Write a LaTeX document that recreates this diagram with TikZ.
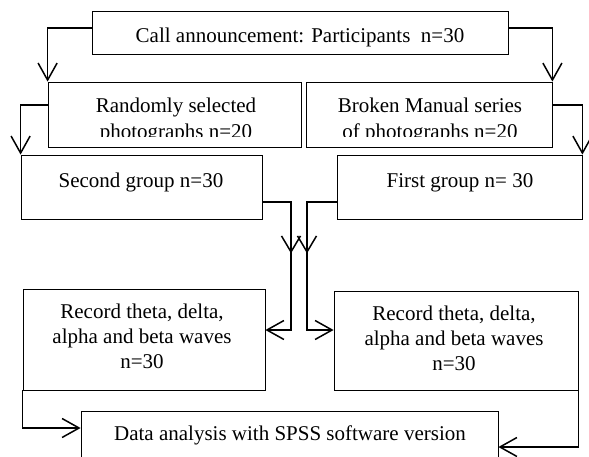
\documentclass[tikz,border=0pt]{standalone}
\usepackage{fontspec}
\setmainfont{Liberation Serif}
\usetikzlibrary{arrows.meta,decorations.markings,calc}
\begin{document}
\begin{tikzpicture}[x=1pt,y=-1pt,
  box/.style={draw, line width=0.8pt, inner sep=0pt},
  txt/.style={anchor=base, inner sep=0pt, font=\fontsize{21}{25}\selectfont},
  conn/.style={line width=1.5pt, -{Straight Barb[length=17pt,width=19pt]}},
  midarrow/.style={postaction={decorate}, decoration={markings,
    mark=at position #1 with {\arrow{Straight Barb[length=16pt,width=19pt]}}}}]
\useasboundingbox (0,0) rectangle (589,456);
\clip (0,0) rectangle (589,456);
\fill[white] (0,0) rectangle (589,456);

% boxes
\node[box, minimum width=416pt, minimum height=43pt] (top) at (300,32.5) {};
\node[box, minimum width=253pt, minimum height=65pt] (rand) at (174.5,114.5) {};
\node[box, minimum width=246pt, minimum height=65pt] (broken) at (429,114.5) {};
\node[box, minimum width=241pt, minimum height=64pt] (second) at (141.5,187) {};
\node[box, minimum width=245pt, minimum height=64pt] (first) at (459.5,187) {};
\node[box, minimum width=242pt, minimum height=101pt] (recL) at (144,339.5) {};
\node[box, minimum width=244pt, minimum height=99pt] (recR) at (456,340.5) {};
\node[box, minimum width=417pt, minimum height=69pt] (data) at (289.5,445.5) {};

% texts
\node[txt] (topt) at (300,42) {Call announcement: Participants\ \ n=30};
\node[txt] (rand1) at (176,112) {Randomly selected};
\node[txt] (brok1) at (430,112) {Broken Manual series};
\begin{scope}
\clip (0,120) rectangle (589,136.8);
\node[txt] (rand2) at (176,138) {photographs n=20};
\node[txt] (brok2) at (430,138) {of photographs n=20};
\end{scope}
\node[txt] (sect) at (141,187) {Second group n=30};
\node[txt] (firt) at (460,187) {First group n= 30};
\node[txt] (recL1) at (142,318) {Record theta, delta,};
\node[txt] (recL2) at (142,343) {alpha and beta waves};
\node[txt] (recL3) at (142,368) {n=30};
\node[txt] (recR1) at (454,320) {Record theta, delta,};
\node[txt] (recR2) at (454,345) {alpha and beta waves};
\node[txt] (recR3) at (454,370) {n=30};
\node[txt] (datat) at (290,440) {Data analysis with SPSS software version};

% connectors
\coordinate (mL) at (291,330);
\coordinate (mR) at (307,330);
\coordinate (bL) at (23,428);
\coordinate (bR) at (578,447);

\draw[conn] ([yshift=4.5pt]top.west) -| (rand.north west);
\draw[conn] ([yshift=4.5pt]top.east) -| (broken.north east);
\draw[conn] ([yshift=9.5pt]rand.west) -| (second.north west);
\draw[conn] ([yshift=9.5pt]broken.east) -| (first.north east);
\draw[conn, midarrow=80pt] ([yshift=-15pt]second.east) -| (mL) -- (mL -| recL.east);
\draw[conn, midarrow=81pt] ([yshift=-15pt]first.west) -| (mR) -- (mR -| recR.west);
\draw[conn] (recL.south west) |- (bL -| data.west);
\draw[conn] ([yshift=17pt]recR.south east) |- (bR -| data.east);
\end{tikzpicture}
\end{document}
